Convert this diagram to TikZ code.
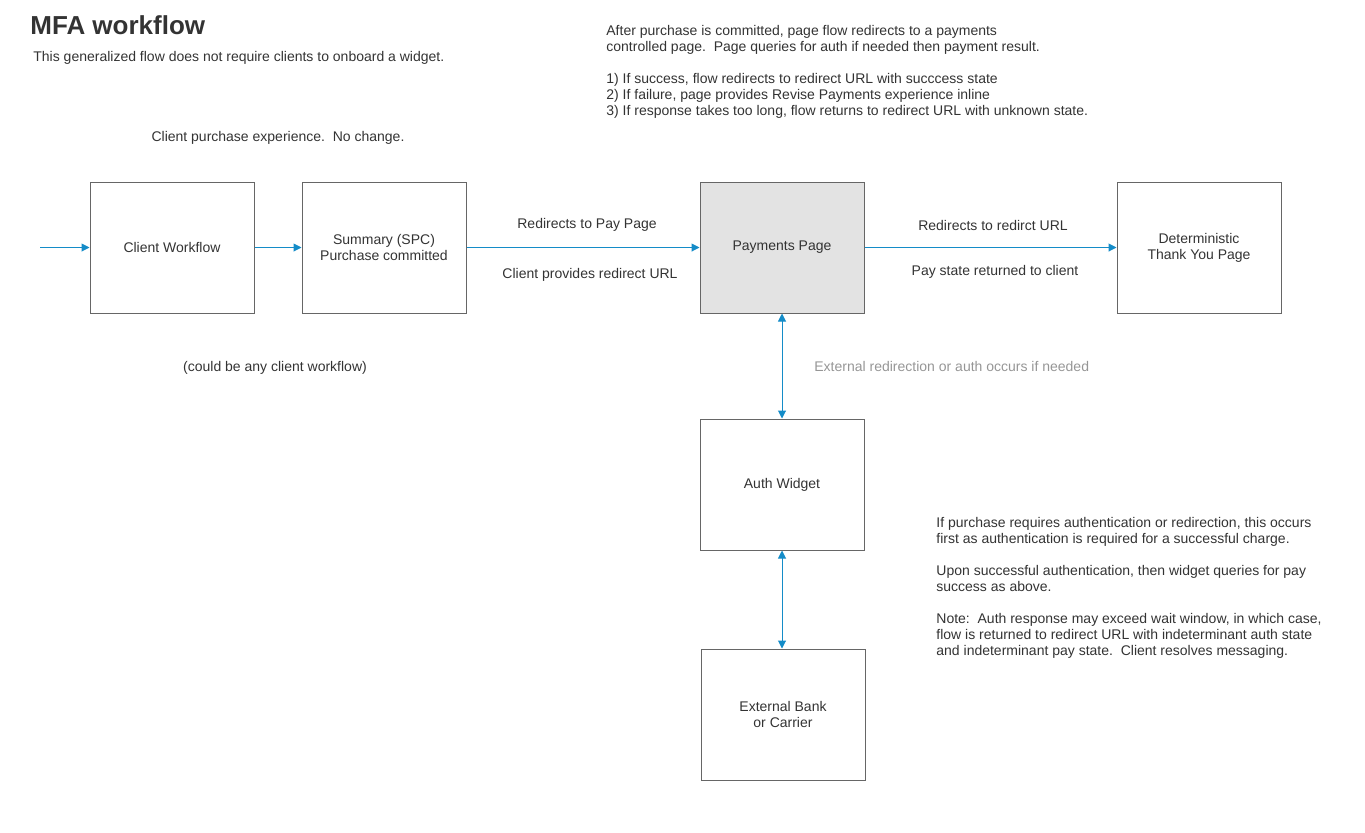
\documentclass[tikz,border=0pt]{standalone}
\usepackage{fontspec}
\setmainfont{Liberation Sans}
\usetikzlibrary{arrows.meta}
\definecolor{flowblue}{RGB}{20,140,200}
\definecolor{inkgray}{RGB}{51,51,51}
\definecolor{notegray}{RGB}{150,150,150}
\begin{document}
\begin{tikzpicture}[x=0.5pt,y=-0.5pt,
    box/.style={draw=black!60, line width=0.5pt, minimum width=82pt, minimum height=65.5pt, align=center, text=inkgray, font=\fontsize{7}{8}\selectfont},
    lbl/.style={text=inkgray, font=\fontsize{7}{8}\selectfont, inner sep=0pt},
    note/.style={lbl, anchor=north west, align=left},
    flow/.style={draw=flowblue, line width=0.5pt, -{Triangle[length=4pt,width=4pt]}},
    both/.style={flow, {Triangle[length=4pt,width=4pt]}-{Triangle[length=4pt,width=4pt]}}]
    \useasboundingbox (0,0) rectangle (1365,832);
    \node[lbl, anchor=west, text=inkgray, font=\fontsize{13}{15}\selectfont\bfseries] (title) at (30,25) {MFA workflow};
    \node[lbl, anchor=west] (sub) at (33,58) {This generalized flow does not require clients to onboard a widget.};
    \node[note] (topnote) at (606,25) {After purchase is committed, page flow redirects to a payments\\ controlled page.\ \ Page queries for auth if needed then payment result.\\[8pt] 1) If success, flow redirects to redirect URL with succcess state\\ 2) If failure, page provides Revise Payments experience inline\\ 3) If response takes too long, flow returns to redirect URL with unknown state.};
    \node[note] (authnote) at (936,517) {If purchase requires authentication or redirection, this occurs\\ first as authentication is required for a successful charge.\\[8pt] Upon successful authentication, then widget queries for pay\\ success as above.\\[8pt] Note:\ \ Auth response may exceed wait window, in which case,\\ flow is returned to redirect URL with indeterminant auth state\\ and indeterminant pay state.\ \ Client resolves messaging.};

    \node[box] (client) at (172,247.5) {Client Workflow};
    \node[box] (summary) at (384,247.5) {Summary (SPC)\\ Purchase committed};
    \node[box, fill=black!11] (pay) at (782,247.5) {Payments Page};
    \node[box] (thanks) at (1199,247.5) {Deterministic\\ Thank You Page};
    \node[box] (auth) at (782,484.5) {Auth Widget};
    \node[box] (bank) at (783,714.5) {External Bank\\ or Carrier};

    \node[lbl] (exp) at (278,138) {Client purchase experience.\ \ No change.};
    \node[lbl] (any) at (275,368) {(could be any client workflow)};
    \node[lbl] (l1) at (587,225) {Redirects to Pay Page};
    \node[lbl] (l2) at (590,275) {Client provides redirect URL};
    \node[lbl] (l3) at (993,225) {Redirects to redirct URL};
    \node[lbl] (l4) at (995,272) {Pay state returned to client};
    \node[lbl, anchor=west, text=notegray] (l5) at (814,366) {External redirection or auth occurs if needed};

    \coordinate (start) at (40,247.5);
    \draw[flow] (start) -- (client);
    \draw[flow] (client) -- (summary);
    \draw[flow] (summary) -- (pay);
    \draw[flow] (pay) -- (thanks);
    \draw[both] (pay) -- (auth);
    \draw[both] (auth) -- (auth |- bank.north);
\end{tikzpicture}
\end{document}
